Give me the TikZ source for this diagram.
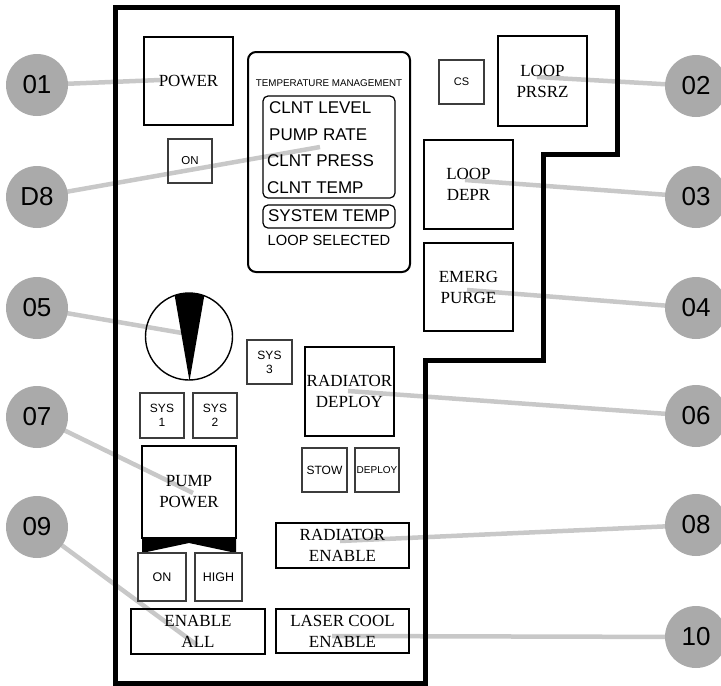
\documentclass[tikz,border=0pt]{standalone}
\usepackage{fontspec}
\setmainfont{Liberation Serif}
\setsansfont{Liberation Sans}
\definecolor{circgray}{RGB}{170,170,170}
\definecolor{linegray}{RGB}{200,200,200}
\definecolor{thinbox}{RGB}{60,60,60}
\tikzset{
  conn/.style={draw=linegray, line width=4.5pt, line cap=butt},
  num/.style={circle, fill=circgray, minimum size=62pt, inner sep=0pt,
    font=\sffamily\fontsize{26}{28}\selectfont},
  bigbox/.style={draw=black, line width=2pt, inner sep=0pt, outer sep=0pt,
    align=center, font=\rmfamily\fontsize{17}{21}\selectfont},
  smallbox/.style={draw=thinbox, line width=1.2pt, inner sep=0pt, outer sep=0pt,
    align=center, font=\sffamily\fontsize{12}{14}\selectfont},
  lcdtext/.style={inner sep=0pt, anchor=west, font=\sffamily\fontsize{17}{20}\selectfont},
  outline/.style={draw=black, line width=5pt, line join=miter},
}
\begin{document}
\begin{tikzpicture}[x=1pt, y=-1pt]
\useasboundingbox (0,0) rectangle (721,686);

\coordinate (p01) at (160,80);
\coordinate (pD8) at (320,147);
\coordinate (p02) at (537,77);
\coordinate (p03) at (465,180);
\coordinate (p04) at (467,290);
\coordinate (p05) at (182,333);
\coordinate (p06) at (348,391);
\coordinate (p07) at (193,493);
\coordinate (p08) at (340,541);
\coordinate (p09) at (197,645);
\coordinate (p10) at (332,636);

\coordinate (k01) at (37,85);
\coordinate (kD8) at (37,197);
\coordinate (k05) at (37,308);
\coordinate (k07) at (37,417);
\coordinate (k09) at (37,527);
\coordinate (k02) at (696,86);
\coordinate (k03) at (696,197);
\coordinate (k04) at (696,308);
\coordinate (k06) at (696,416);
\coordinate (k08) at (696,525);
\coordinate (k10) at (696,637);

% connectors (behind everything)
\draw[conn] (k01) -- (p01);
\draw[conn] (kD8) -- (pD8);
\draw[conn] (k05) -- (p05);
\draw[conn] (k07) -- (p07);
\draw[conn] (k09) -- (p09);
\draw[conn] (k02) -- (p02);
\draw[conn] (k03) -- (p03);
\draw[conn] (k04) -- (p04);
\draw[conn] (k06) -- (p06);
\draw[conn] (k08) -- (p08);
\draw[conn] (k10) -- (p10);

% big boxes
\node[bigbox, minimum width=89pt, minimum height=88pt] (power) at (188.5,81) {POWER};
\node[bigbox, minimum width=89pt, minimum height=90pt] (prsrz) at (542.5,81) {LOOP\\PRSRZ};
\node[bigbox, minimum width=89pt, minimum height=89pt] (depr) at (468.5,184) {LOOP\\DEPR};
\node[bigbox, minimum width=89pt, minimum height=88pt] (purge) at (468.5,287) {EMERG\\PURGE};
\node[bigbox, minimum width=89pt, minimum height=89pt] (raddep) at (349.5,391.5) {RADIATOR\\DEPLOY};
\node[bigbox, minimum width=133pt, minimum height=45pt] (radena) at (342.5,545.5) {RADIATOR\\ENABLE};
\node[bigbox, minimum width=133pt, minimum height=44pt] (laser) at (342.5,631) {LASER COOL\\ENABLE};
\node[bigbox, minimum width=134pt, minimum height=45pt] (enall) at (198,631.5) {ENABLE\\ALL};

% pump power with black chevron band
\node[bigbox, minimum width=94pt, minimum height=92pt] (pump) at (189,492) {PUMP\\POWER};
\fill[black] (142,537) -- (236,537) -- (236,553) -- (189,543) -- (142,553) -- cycle;

% small boxes
\node[smallbox, font=\sffamily\fontsize{11.5}{13}\selectfont, minimum width=44pt, minimum height=44pt] (on1) at (190,161) {ON};
\node[smallbox, font=\sffamily\fontsize{11}{13}\selectfont, minimum width=45pt, minimum height=44pt] (cs) at (461.5,82) {CS};
\node[smallbox, minimum width=45pt, minimum height=44pt] (sys3) at (269.5,362) {SYS\\3};
\node[smallbox, minimum width=44pt, minimum height=45pt] (sys1) at (162,415.5) {SYS\\1};
\node[smallbox, minimum width=44pt, minimum height=45pt] (sys2) at (215,415.5) {SYS\\2};
\node[smallbox, minimum width=45pt, minimum height=44pt] (stow) at (324.5,470) {STOW};
\node[smallbox, font=\sffamily\fontsize{10}{12}\selectfont, minimum width=44pt, minimum height=44pt] (deploy) at (377,470) {DEPLOY};
\node[smallbox, font=\sffamily\fontsize{12.5}{14}\selectfont, minimum width=48pt, minimum height=48pt] (on2) at (162,577) {ON};
\node[smallbox, font=\sffamily\fontsize{12.5}{14}\selectfont, minimum width=47pt, minimum height=48pt] (high) at (218.5,577) {HIGH};

% temperature management panel
\draw[black, line width=2pt, rounded corners=8pt] (248,52) rectangle (410,272);
\node[inner sep=0pt, font=\sffamily\fontsize{9.8}{11}\selectfont] (tmtitle) at (329,83) {TEMPERATURE MANAGEMENT};
\draw[black, line width=1.2pt, rounded corners=5pt] (263,96) rectangle (395,198);
\node[lcdtext] (t1) at (269,107.5) {CLNT LEVEL};
\node[lcdtext] (t2) at (269,134.5) {PUMP RATE};
\node[lcdtext] (t3) at (267,161) {CLNT PRESS};
\node[lcdtext] (t4) at (267,188) {CLNT TEMP};
\draw[black, line width=1.2pt, rounded corners=5pt] (263,205) rectangle (395,228);
\node[inner sep=0pt, font=\sffamily\fontsize{17}{20}\selectfont] (t5) at (329,216) {SYSTEM TEMP};
\node[inner sep=0pt, font=\sffamily\fontsize{14.7}{17}\selectfont] (t6) at (329,240) {LOOP SELECTED};

% gauge
\begin{scope}
  \clip (189,336.5) circle[radius=43.5pt];
  \fill[black] (189.5,381) -- (172,280) -- (207,280) -- cycle;
\end{scope}
\draw[black, line width=1.4pt] (189,336.5) circle[radius=43.5pt];

% outline
\draw[outline] (115,7) -- (617,7) -- (617,154) -- (543,154) -- (543,360) -- (425,360) -- (425,683) -- (115,683) -- cycle;

% number circles
\node[num] (c01) at (k01) {01};
\node[num] (cD8) at (kD8) {D8};
\node[num] (c05) at (k05) {05};
\node[num] (c07) at (k07) {07};
\node[num] (c09) at (k09) {09};
\node[num] (c02) at (k02) {02};
\node[num] (c03) at (k03) {03};
\node[num] (c04) at (k04) {04};
\node[num] (c06) at (k06) {06};
\node[num] (c08) at (k08) {08};
\node[num] (c10) at (k10) {10};
\end{tikzpicture}
\end{document}
